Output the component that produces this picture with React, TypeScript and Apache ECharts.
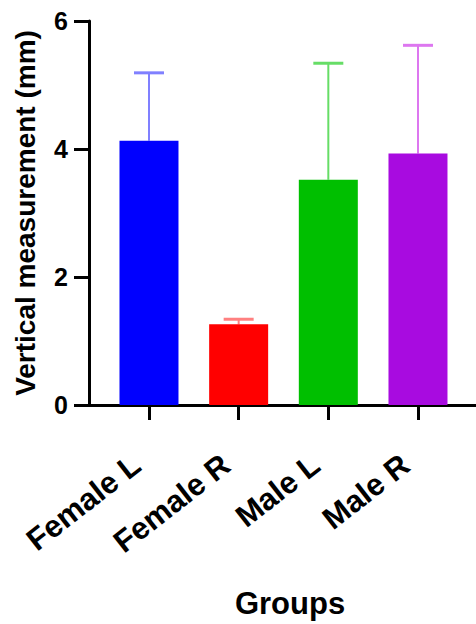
import React, { useEffect, useRef } from "react";
import * as echarts from "echarts";

const categories = ["Female L", "Female R", "Male L", "Male R"];
const catPositions = [0, 1, 2, 3];
const means = [4.13, 1.26, 3.52, 3.93];
const upper = [5.19, 1.34, 5.34, 5.62];
const yMin = 0;
const yMax = 6;
const yStep = 2;
const barColors = ["#0000FF", "#FF0000", "#00BF00", "#A80BE0"];
const errColors = ["#8080FF", "#FF8080", "#66DD66", "#DD77F0"];

export default function App() {
  const ref = useRef<HTMLDivElement>(null);
  useEffect(() => {
    const chart = echarts.init(ref.current!, null, { renderer: "svg" });
    const font = "Liberation Sans";
    const black = "#000000";
    chart.setOption({
      animation: false,
      grid: { left: 89, right: 0, top: 21, bottom: 217 },
      xAxis: {
        type: "value",
        min: -0.669,
        max: 3.647,
        splitLine: { show: false },
        axisLine: { show: true, onZero: false, lineStyle: { color: black, width: 3 } },
        axisTick: { show: true, length: 15, customValues: catPositions, lineStyle: { color: black, width: 3 } },
        axisLabel: {
          customValues: catPositions,
          formatter: (v: number) => categories[Math.round(v)] ?? "",
          rotate: 38,
          margin: 46,
          fontSize: 31,
          fontWeight: "bold",
          color: black,
          fontFamily: font,
          padding: [0, 16, 0, 0],
        },
        name: "Groups",
        nameLocation: "middle",
        nameGap: 183,
        nameTextStyle: { fontSize: 31, fontWeight: "bold", color: black, fontFamily: font, padding: [0, 0, 0, 15] },
      },
      yAxis: {
        type: "value",
        min: yMin,
        max: yMax,
        interval: yStep,
        axisLine: { show: true, onZero: false, lineStyle: { color: black, width: 3 } },
        axisTick: { show: true, length: 15, lineStyle: { color: black, width: 3 } },
        axisLabel: { margin: 21, fontSize: 25, fontWeight: "bold", color: black, fontFamily: font },
        splitLine: { show: false },
        name: "Vertical measurement (mm)",
        nameLocation: "middle",
        nameGap: 50,
        nameTextStyle: { fontSize: 28, fontWeight: "bold", color: black, fontFamily: font },
      },
      series: [
        {
          type: "bar",
          barWidth: 59,
          data: means.map((v, i) => ({ value: [catPositions[i], v], itemStyle: { color: barColors[i] } })),
        },
        {
          type: "custom",
          data: means.map((v, i) => [catPositions[i], v, upper[i]]),
          renderItem: (params: any, api: any) => {
            const x = api.value(0);
            const base = api.coord([x, api.value(1)]);
            const top = api.coord([x, api.value(2)]);
            const c = errColors[params.dataIndex];
            return {
              type: "group",
              children: [
                { type: "line", shape: { x1: base[0], y1: base[1], x2: top[0], y2: top[1] }, style: { stroke: c, lineWidth: 2 } },
                { type: "line", shape: { x1: top[0] - 15, y1: top[1], x2: top[0] + 15, y2: top[1] }, style: { stroke: c, lineWidth: 3 } },
              ],
            };
          },
        },
      ],
    });
    return () => chart.dispose();
  }, []);
  return <div ref={ref} style={{ position: "fixed", left: 0, top: 0, width: 476, height: 624, background: "#fff" }} />;
}
